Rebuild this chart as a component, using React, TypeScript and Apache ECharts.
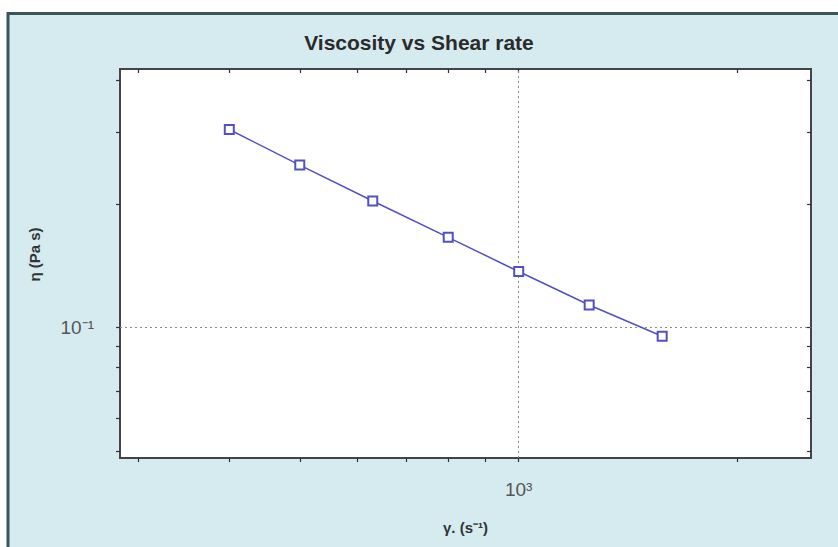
import React, { useEffect, useRef } from "react";
import * as echarts from "echarts";

const chartTitle = "Viscosity vs Shear rate";
const xName = "γ. (s⁻¹)";
const yName = "η (Pa s)";

const shearRate = [400, 500, 630, 800, 1000, 1250, 1575];
const viscosity = [0.304, 0.249, 0.2035, 0.166, 0.137, 0.1135, 0.0953];

const xTickValues = [300, 400, 500, 600, 700, 800, 900, 1000, 2000];
const yTickValues = [0.05, 0.06, 0.07, 0.08, 0.09, 0.1, 0.2, 0.3, 0.4];
const xLabelValues = [1000];
const yLabelValues = [0.1];
const xLabelTexts = ["10³"];
const yLabelTexts = ["10⁻¹"];
const xGridValues = [1000];
const yGridValues = [0.1];

const X_MIN = 283;
const X_MAX = 2523;
const Y_MIN = 0.0481;
const Y_MAX = 0.427;

const FONT = "Liberation Sans";
const SERIES_COLOR = "#5151c4";
const AXIS_COLOR = "#444444";

function labelFor(values: number[], texts: string[]) {
  return (v: number) => {
    for (let i = 0; i < values.length; i++) {
      if (Math.abs(Math.log10(v) - Math.log10(values[i])) < 1e-6) return texts[i];
    }
    return "";
  };
}

export default function App() {
  const ref = useRef<HTMLDivElement>(null);

  useEffect(() => {
    if (!ref.current) return;
    const chart = echarts.init(ref.current, undefined, { renderer: "svg" });

    const axisLine = { show: true, lineStyle: { color: AXIS_COLOR, width: 1.8 } };
    const tickLine = { color: "#333", width: 1.2 };

    chart.setOption({
      animation: false,
      backgroundColor: "#ffffff",
      graphic: [
        {
          type: "rect",
          silent: true,
          z: -10,
          shape: { x: 7, y: 13, width: 831, height: 534 },
          style: { fill: "#d5ebf0" },
        },
        {
          type: "line",
          silent: true,
          z: -9,
          shape: { x1: 7, y1: 13.5, x2: 838, y2: 13.5 },
          style: { stroke: "#3b5558", lineWidth: 3 },
        },
        {
          type: "line",
          silent: true,
          z: -9,
          shape: { x1: 8, y1: 12, x2: 8, y2: 547 },
          style: { stroke: "#3b5558", lineWidth: 3 },
        },
      ],
      title: {
        text: chartTitle,
        left: "center",
        top: 27,
        textStyle: {
          fontFamily: FONT,
          fontSize: 21,
          fontWeight: "bold",
          color: "#2b2b2b",
        },
      },
      grid: {
        left: 120,
        top: 69,
        right: 27,
        bottom: 89,
        show: true,
        backgroundColor: "#ffffff",
        borderColor: AXIS_COLOR,
        borderWidth: 1.8,
      },
      xAxis: [
        {
          type: "log",
          logBase: 10,
          min: X_MIN,
          max: X_MAX,
          position: "bottom",
          axisLine,
          axisTick: { show: true, customValues: xTickValues, inside: false, length: 4, lineStyle: tickLine },
          axisLabel: {
            customValues: xLabelValues,
            formatter: labelFor(xLabelValues, xLabelTexts),
            margin: 22,
            fontFamily: FONT,
            fontSize: 19,
            color: "#555",
          },
          minorTick: { show: false },
          splitLine: { show: false },
          name: xName,
          nameLocation: "middle",
          nameGap: 62,
          nameTextStyle: { fontFamily: FONT, fontSize: 15, fontWeight: "bold", color: "#333" },
        },
        {
          type: "log",
          logBase: 10,
          min: X_MIN,
          max: X_MAX,
          position: "top",
          axisLine,
          axisTick: { show: true, customValues: xTickValues, inside: true, length: 4, lineStyle: tickLine },
          axisLabel: { show: false },
          splitLine: { show: false },
        },
      ],
      yAxis: [
        {
          type: "log",
          logBase: 10,
          min: Y_MIN,
          max: Y_MAX,
          position: "left",
          axisLine,
          axisTick: { show: true, customValues: yTickValues, inside: false, length: 4, lineStyle: tickLine },
          axisLabel: {
            customValues: yLabelValues,
            formatter: labelFor(yLabelValues, yLabelTexts),
            margin: 26,
            fontFamily: FONT,
            fontSize: 19,
            color: "#555",
          },
          minorTick: { show: false },
          splitLine: { show: false },
          name: yName,
          nameLocation: "middle",
          nameGap: 78,
          nameTextStyle: {
            fontFamily: FONT,
            fontSize: 15,
            fontWeight: "bold",
            color: "#333",
            padding: [0, 0, 0, 18],
          },
        },
        {
          type: "log",
          logBase: 10,
          min: Y_MIN,
          max: Y_MAX,
          position: "right",
          axisLine,
          axisTick: { show: true, customValues: yTickValues, inside: true, length: 4, lineStyle: tickLine },
          axisLabel: { show: false },
          splitLine: { show: false },
        },
      ],
      series: [
        {
          type: "line",
          xAxisIndex: 0,
          yAxisIndex: 0,
          data: shearRate.map((x, i) => [x, viscosity[i]]),
          symbol: "emptyRect",
          symbolSize: 9,
          lineStyle: { color: SERIES_COLOR, width: 1.5 },
          itemStyle: { color: SERIES_COLOR, borderColor: SERIES_COLOR, borderWidth: 1.5 },
          z: 5,
          markLine: {
            silent: true,
            symbol: "none",
            label: { show: false },
            lineStyle: { color: "#8a8a8a", type: [2, 3], width: 1 },
            data: [
              ...xGridValues.map((v) => ({ xAxis: v })),
              ...yGridValues.map((v) => ({ yAxis: v })),
            ],
          },
        },
      ],
    });

    return () => {
      chart.dispose();
    };
  }, []);

  return (
    <div
      ref={ref}
      style={{ position: "fixed", left: 0, top: 0, width: 838, height: 547 }}
    />
  );
}
